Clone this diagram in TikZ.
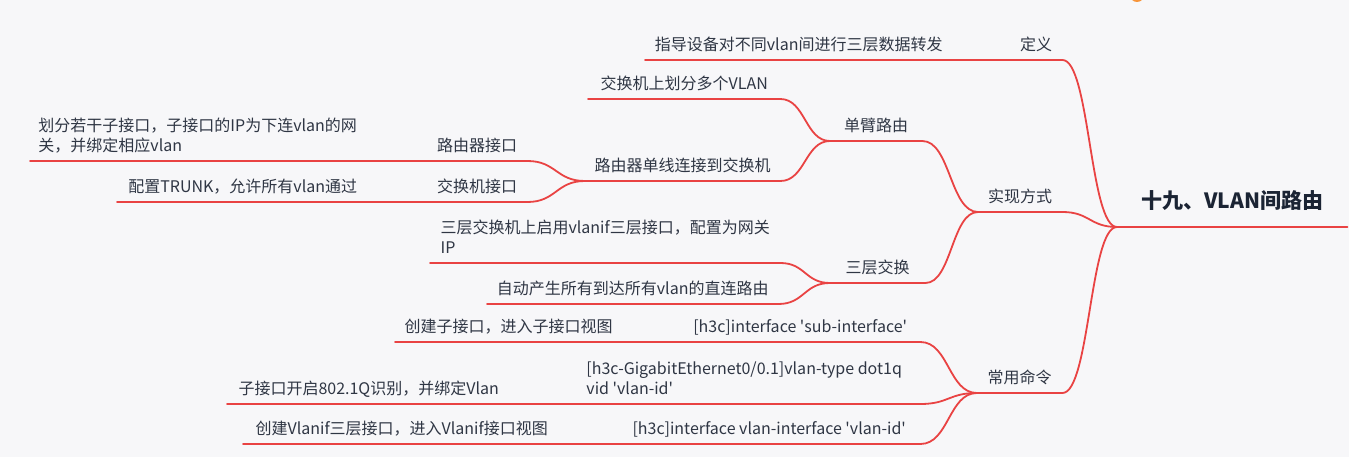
\documentclass[tikz,border=0pt]{standalone}
\usepackage{fontspec}
\setmainfont{Noto Sans CJK SC}
\usetikzlibrary{calc}

\definecolor{mapred}{HTML}{E94343}
\definecolor{ink}{HTML}{2F3644}
\definecolor{inkdark}{HTML}{1B2434}
\definecolor{paper}{HTML}{F7F7F9}
\definecolor{dotorange}{HTML}{F7953A}

\newcommand{\sqt}{\textquotesingle}
\newcommand{\twoline}[2]{\begin{tabular}[b]{@{}l@{}}#1\\#2\end{tabular}}

\tikzset{
  link/.style={draw=mapred, line width=1.8pt, line cap=round},
  topic/.style={anchor=south west, inner xsep=0pt, inner ysep=5pt, text depth=4pt,
    text=ink, font=\fontsize{16}{20}\selectfont},
  maintopic/.style={topic, inner ysep=14pt, text=inkdark, font=\fontsize{21}{24}\selectfont\bfseries},
}

\begin{document}
\begin{tikzpicture}[x=1pt, y=-1pt]
  \fill[paper] (0,0) rectangle (1349,457);
  \useasboundingbox (0,0) rectangle (1349,457);
  \fill[dotorange] (1137,-5) circle (7pt);

  % root and first level
  \node[maintopic, minimum width=230pt] (root) at (1117,227) {十九、VLAN间路由};
  \node[topic, minimum width=52pt] (def) at (1010,60) {定义};
  \node[topic, minimum width=84pt] (impl) at (978,212) {实现方式};
  \node[topic, minimum width=85pt] (cmd) at (977,393) {常用命令};

  % definition
  \node[topic, minimum width=307pt] (defleaf) at (645,60) {指导设备对不同vlan间进行三层数据转发};

  % ways
  \node[topic, minimum width=92pt] (arm) at (830,141) {单臂路由};
  \node[topic, minimum width=95pt] (l3) at (830,283) {三层交换};
  \node[topic, minimum width=192pt] (vlanpart) at (588,99) {交换机上划分多个VLAN};
  \node[topic, minimum width=195pt] (single) at (585,181) {路由器单线连接到交换机};
  \node[topic, minimum width=100pt] (rif) at (427,161) {路由器接口};
  \node[topic, minimum width=100pt] (sif) at (427,202) {交换机接口};
  \node[topic, minimum width=335pt] (rifleaf) at (30,161)
    {\twoline{划分若干子接口，子接口的IP为下连vlan的网}{关，并绑定相应vlan}};
  \node[topic, minimum width=251pt] (sifleaf) at (117,202) {配置TRUNK，允许所有vlan通过};
  \node[topic, minimum width=350pt] (vif) at (430,263)
    {\twoline{三层交换机上启用vlanif三层接口，配置为网关}{IP}};
  \node[topic, minimum width=291pt] (auto) at (487,304) {自动产生所有到达所有vlan的直连路由};

  % commands
  \node[topic, minimum width=240pt] (c1) at (680,342) {[h3c]interface \sqt sub-interface\sqt};
  \node[topic, minimum width=352pt] (c2) at (568,404)
    {\twoline{[h3c-GigabitEthernet0/0.1]vlan-type dot1q}{vid \sqt vlan-id\sqt}};
  \node[topic, minimum width=302pt] (c3) at (618,444) {[h3c]interface vlan-interface \sqt vlan-id\sqt};
  \node[topic, minimum width=227pt] (c1leaf) at (395,342) {创建子接口，进入子接口视图};
  \node[topic, minimum width=283pt] (c2leaf) at (227,404) {子接口开启802.1Q识别，并绑定Vlan};
  \node[topic, minimum width=317pt] (c3leaf) at (243,444) {创建Vlanif三层接口，进入Vlanif接口视图};

  % underlines
  \foreach \n in {root,def,impl,cmd,defleaf,arm,l3,vlanpart,single,rif,sif,rifleaf,sifleaf,
                  vif,auto,c1,c2,c3,c1leaf,c2leaf,c3leaf}
    \draw[link] (\n.south west) -- (\n.south east);

  % branches
  \foreach \a/\b in {def/root,impl/root,cmd/root,defleaf/def,arm/impl,l3/impl,
                     vlanpart/arm,single/arm,rif/single,sif/single,rifleaf/rif,sifleaf/sif,
                     vif/l3,auto/l3,c1/cmd,c2/cmd,c3/cmd,c1leaf/c1,c2leaf/c2,c3leaf/c3}
    \draw[link] let \p1=(\a.south east), \p2=(\b.south west) in
      (\p1) .. controls ({(\x1+\x2)/2},\y1) and ({(\x1+\x2)/2},\y2) .. (\p2);
\end{tikzpicture}
\end{document}
